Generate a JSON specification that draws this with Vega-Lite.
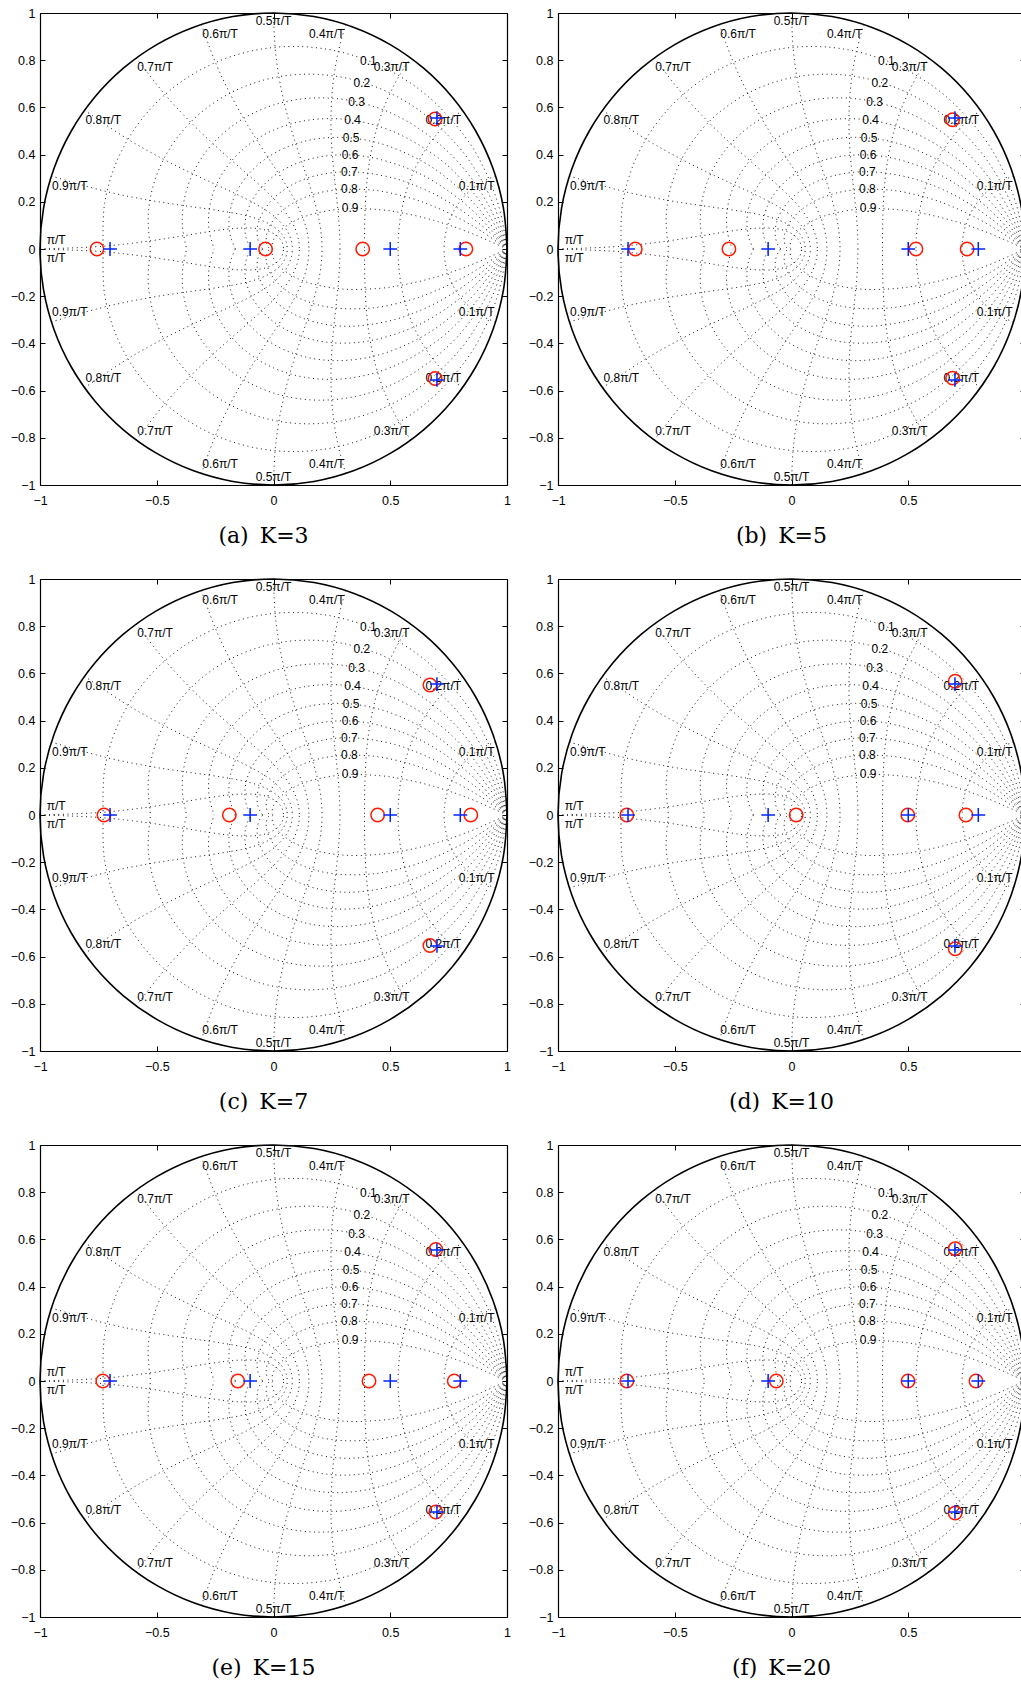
{
"$schema":"https://vega.github.io/schema/vega-lite/v6.json",
"padding":{"left":10,"top":7,"right":0,"bottom":0},
"background":"white",
"config":{"view":{"stroke":null},"axis":{"grid":false,"domainColor":"#000","domainWidth":1.2,"tickColor":"#000","tickWidth":1,"tickSize":-5,"labelColor":"#000","labelFont":"Liberation Sans","labelFontSize":12.5,"labelFlush":false,"labelOverlap":false,"labelBound":false},"title":{"orient":"bottom","dx":-10,"anchor":"middle","font":"DejaVu Serif","fontSize":22,"fontWeight":"normal","color":"#000"}},
"datasets":{
"grid":[
{"c":"z1","o":0,"x":1,"y":0},{"c":"z1","o":1,"x":0.9677,"y":0.1706},{"c":"z1","o":2,"x":0.9073,"y":0.3302},{"c":"z1","o":3,"x":0.8216,"y":0.4744},{"c":"z1","o":4,"x":0.6534,"y":0.6534},{"c":"z1","o":5,"x":0.4501,"y":0.7795},{"c":"z1","o":6,"x":0.2269,"y":0.8469},{"c":"z1","o":7,"x":0,"y":0.854},{"c":"z1","o":8,"x":-0.2153,"y":0.8035},{"c":"z1","o":9,"x":-0.4051,"y":0.7016},{"c":"z1","o":10,"x":-0.558,"y":0.558},{"c":"z1","o":11,"x":-0.6657,"y":0.3843},{"c":"z1","o":12,"x":-0.7232,"y":0.1938},{"c":"z1","o":13,"x":-0.7293,"y":0},
{"c":"z1m","o":0,"x":1,"y":0},{"c":"z1m","o":1,"x":0.9677,"y":-0.1706},{"c":"z1m","o":2,"x":0.9073,"y":-0.3302},{"c":"z1m","o":3,"x":0.8216,"y":-0.4744},{"c":"z1m","o":4,"x":0.6534,"y":-0.6534},{"c":"z1m","o":5,"x":0.4501,"y":-0.7795},{"c":"z1m","o":6,"x":0.2269,"y":-0.8469},{"c":"z1m","o":7,"x":0,"y":-0.854},{"c":"z1m","o":8,"x":-0.2153,"y":-0.8035},{"c":"z1m","o":9,"x":-0.4051,"y":-0.7016},{"c":"z1m","o":10,"x":-0.558,"y":-0.558},{"c":"z1m","o":11,"x":-0.6657,"y":-0.3843},{"c":"z1m","o":12,"x":-0.7232,"y":-0.1938},{"c":"z1m","o":13,"x":-0.7293,"y":0},
{"c":"z2","o":0,"x":1,"y":0},{"c":"z2","o":1,"x":0.9503,"y":0.1676},{"c":"z2","o":2,"x":0.8751,"y":0.3185},{"c":"z2","o":3,"x":0.7782,"y":0.4493},{"c":"z2","o":4,"x":0.6024,"y":0.6024},{"c":"z2","o":5,"x":0.4038,"y":0.6994},{"c":"z2","o":6,"x":0.1981,"y":0.7394},{"c":"z2","o":7,"x":0,"y":0.7257},{"c":"z2","o":8,"x":-0.178,"y":0.6645},{"c":"z2","o":9,"x":-0.3261,"y":0.5648},{"c":"z2","o":10,"x":-0.4371,"y":0.4371},{"c":"z2","o":11,"x":-0.5075,"y":0.293},{"c":"z2","o":12,"x":-0.5366,"y":0.1438},{"c":"z2","o":13,"x":-0.5266,"y":0},
{"c":"z2m","o":0,"x":1,"y":0},{"c":"z2m","o":1,"x":0.9503,"y":-0.1676},{"c":"z2m","o":2,"x":0.8751,"y":-0.3185},{"c":"z2m","o":3,"x":0.7782,"y":-0.4493},{"c":"z2m","o":4,"x":0.6024,"y":-0.6024},{"c":"z2m","o":5,"x":0.4038,"y":-0.6994},{"c":"z2m","o":6,"x":0.1981,"y":-0.7394},{"c":"z2m","o":7,"x":0,"y":-0.7257},{"c":"z2m","o":8,"x":-0.178,"y":-0.6645},{"c":"z2m","o":9,"x":-0.3261,"y":-0.5648},{"c":"z2m","o":10,"x":-0.4371,"y":-0.4371},{"c":"z2m","o":11,"x":-0.5075,"y":-0.293},{"c":"z2m","o":12,"x":-0.5366,"y":-0.1438},{"c":"z2m","o":13,"x":-0.5266,"y":0},
{"c":"z3","o":0,"x":1,"y":0},{"c":"z3","o":1,"x":0.9322,"y":0.1644},{"c":"z3","o":2,"x":0.842,"y":0.3065},{"c":"z3","o":3,"x":0.7345,"y":0.4241},{"c":"z3","o":4,"x":0.5524,"y":0.5524},{"c":"z3","o":5,"x":0.3597,"y":0.623},{"c":"z3","o":6,"x":0.1715,"y":0.64},{"c":"z3","o":7,"x":0,"y":0.6102},{"c":"z3","o":8,"x":-0.1454,"y":0.5428},{"c":"z3","o":9,"x":-0.2588,"y":0.4482},{"c":"z3","o":10,"x":-0.337,"y":0.337},{"c":"z3","o":11,"x":-0.3801,"y":0.2195},{"c":"z3","o":12,"x":-0.3905,"y":0.1046},{"c":"z3","o":13,"x":-0.3723,"y":0},
{"c":"z3m","o":0,"x":1,"y":0},{"c":"z3m","o":1,"x":0.9322,"y":-0.1644},{"c":"z3m","o":2,"x":0.842,"y":-0.3065},{"c":"z3m","o":3,"x":0.7345,"y":-0.4241},{"c":"z3m","o":4,"x":0.5524,"y":-0.5524},{"c":"z3m","o":5,"x":0.3597,"y":-0.623},{"c":"z3m","o":6,"x":0.1715,"y":-0.64},{"c":"z3m","o":7,"x":0,"y":-0.6102},{"c":"z3m","o":8,"x":-0.1454,"y":-0.5428},{"c":"z3m","o":9,"x":-0.2588,"y":-0.4482},{"c":"z3m","o":10,"x":-0.337,"y":-0.337},{"c":"z3m","o":11,"x":-0.3801,"y":-0.2195},{"c":"z3m","o":12,"x":-0.3905,"y":-0.1046},{"c":"z3m","o":13,"x":-0.3723,"y":0},
{"c":"z4","o":0,"x":1,"y":0},{"c":"z4","o":1,"x":0.9126,"y":0.1609},{"c":"z4","o":2,"x":0.8069,"y":0.2937},{"c":"z4","o":3,"x":0.6891,"y":0.3979},{"c":"z4","o":4,"x":0.5019,"y":0.5019},{"c":"z4","o":5,"x":0.3166,"y":0.5483},{"c":"z4","o":6,"x":0.1462,"y":0.5455},{"c":"z4","o":7,"x":0,"y":0.5038},{"c":"z4","o":8,"x":-0.1163,"y":0.4341},{"c":"z4","o":9,"x":-0.2004,"y":0.3472},{"c":"z4","o":10,"x":-0.2528,"y":0.2528},{"c":"z4","o":11,"x":-0.2762,"y":0.1595},{"c":"z4","o":12,"x":-0.2748,"y":0.0736},{"c":"z4","o":13,"x":-0.2538,"y":0},
{"c":"z4m","o":0,"x":1,"y":0},{"c":"z4m","o":1,"x":0.9126,"y":-0.1609},{"c":"z4m","o":2,"x":0.8069,"y":-0.2937},{"c":"z4m","o":3,"x":0.6891,"y":-0.3979},{"c":"z4m","o":4,"x":0.5019,"y":-0.5019},{"c":"z4m","o":5,"x":0.3166,"y":-0.5483},{"c":"z4m","o":6,"x":0.1462,"y":-0.5455},{"c":"z4m","o":7,"x":0,"y":-0.5038},{"c":"z4m","o":8,"x":-0.1163,"y":-0.4341},{"c":"z4m","o":9,"x":-0.2004,"y":-0.3472},{"c":"z4m","o":10,"x":-0.2528,"y":-0.2528},{"c":"z4m","o":11,"x":-0.2762,"y":-0.1595},{"c":"z4m","o":12,"x":-0.2748,"y":-0.0736},{"c":"z4m","o":13,"x":-0.2538,"y":0},
{"c":"z5","o":0,"x":1,"y":0},{"c":"z5","o":1,"x":0.8904,"y":0.157},{"c":"z5","o":2,"x":0.7682,"y":0.2796},{"c":"z5","o":3,"x":0.6401,"y":0.3696},{"c":"z5","o":4,"x":0.4493,"y":0.4493},{"c":"z5","o":5,"x":0.2732,"y":0.4731},{"c":"z5","o":6,"x":0.1216,"y":0.4537},{"c":"z5","o":7,"x":0,"y":0.4038},{"c":"z5","o":8,"x":-0.0898,"y":0.3353},{"c":"z5","o":9,"x":-0.1492,"y":0.2584},{"c":"z5","o":10,"x":-0.1814,"y":0.1814},{"c":"z5","o":11,"x":-0.191,"y":0.1103},{"c":"z5","o":12,"x":-0.1832,"y":0.0491},{"c":"z5","o":13,"x":-0.163,"y":0},
{"c":"z5m","o":0,"x":1,"y":0},{"c":"z5m","o":1,"x":0.8904,"y":-0.157},{"c":"z5m","o":2,"x":0.7682,"y":-0.2796},{"c":"z5m","o":3,"x":0.6401,"y":-0.3696},{"c":"z5m","o":4,"x":0.4493,"y":-0.4493},{"c":"z5m","o":5,"x":0.2732,"y":-0.4731},{"c":"z5m","o":6,"x":0.1216,"y":-0.4537},{"c":"z5m","o":7,"x":0,"y":-0.4038},{"c":"z5m","o":8,"x":-0.0898,"y":-0.3353},{"c":"z5m","o":9,"x":-0.1492,"y":-0.2584},{"c":"z5m","o":10,"x":-0.1814,"y":-0.1814},{"c":"z5m","o":11,"x":-0.191,"y":-0.1103},{"c":"z5m","o":12,"x":-0.1832,"y":-0.0491},{"c":"z5m","o":13,"x":-0.163,"y":0},
{"c":"z6","o":0,"x":1,"y":0},{"c":"z6","o":1,"x":0.864,"y":0.1523},{"c":"z6","o":2,"x":0.7233,"y":0.2632},{"c":"z6","o":3,"x":0.5848,"y":0.3376},{"c":"z6","o":4,"x":0.3923,"y":0.3923},{"c":"z6","o":5,"x":0.228,"y":0.3949},{"c":"z6","o":6,"x":0.097,"y":0.3619},{"c":"z6","o":7,"x":0,"y":0.3079},{"c":"z6","o":8,"x":-0.0655,"y":0.2444},{"c":"z6","o":9,"x":-0.1039,"y":0.18},{"c":"z6","o":10,"x":-0.1208,"y":0.1208},{"c":"z6","o":11,"x":-0.1216,"y":0.0702},{"c":"z6","o":12,"x":-0.1114,"y":0.0299},{"c":"z6","o":13,"x":-0.0948,"y":0},
{"c":"z6m","o":0,"x":1,"y":0},{"c":"z6m","o":1,"x":0.864,"y":-0.1523},{"c":"z6m","o":2,"x":0.7233,"y":-0.2632},{"c":"z6m","o":3,"x":0.5848,"y":-0.3376},{"c":"z6m","o":4,"x":0.3923,"y":-0.3923},{"c":"z6m","o":5,"x":0.228,"y":-0.3949},{"c":"z6m","o":6,"x":0.097,"y":-0.3619},{"c":"z6m","o":7,"x":0,"y":-0.3079},{"c":"z6m","o":8,"x":-0.0655,"y":-0.2444},{"c":"z6m","o":9,"x":-0.1039,"y":-0.18},{"c":"z6m","o":10,"x":-0.1208,"y":-0.1208},{"c":"z6m","o":11,"x":-0.1216,"y":-0.0702},{"c":"z6m","o":12,"x":-0.1114,"y":-0.0299},{"c":"z6m","o":13,"x":-0.0948,"y":0},
{"c":"z7","o":0,"x":1,"y":0},{"c":"z7","o":1,"x":0.9145,"y":0.08},{"c":"z7","o":2,"x":0.83,"y":0.1463},{"c":"z7","o":3,"x":0.7473,"y":0.2002},{"c":"z7","o":4,"x":0.6674,"y":0.2429},{"c":"z7","o":5,"x":0.5184,"y":0.2993},{"c":"z7","o":6,"x":0.3274,"y":0.3274},{"c":"z7","o":7,"x":0.1791,"y":0.3103},{"c":"z7","o":8,"x":0.0717,"y":0.2677},{"c":"z7","o":9,"x":0,"y":0.2144},{"c":"z7","o":10,"x":-0.0429,"y":0.1603},{"c":"z7","o":11,"x":-0.0642,"y":0.1112},{"c":"z7","o":12,"x":-0.0702,"y":0.0702},{"c":"z7","o":13,"x":-0.0665,"y":0.0384},{"c":"z7","o":14,"x":-0.0574,"y":0.0154},{"c":"z7","o":15,"x":-0.046,"y":0},
{"c":"z7m","o":0,"x":1,"y":0},{"c":"z7m","o":1,"x":0.9145,"y":-0.08},{"c":"z7m","o":2,"x":0.83,"y":-0.1463},{"c":"z7m","o":3,"x":0.7473,"y":-0.2002},{"c":"z7m","o":4,"x":0.6674,"y":-0.2429},{"c":"z7m","o":5,"x":0.5184,"y":-0.2993},{"c":"z7m","o":6,"x":0.3274,"y":-0.3274},{"c":"z7m","o":7,"x":0.1791,"y":-0.3103},{"c":"z7m","o":8,"x":0.0717,"y":-0.2677},{"c":"z7m","o":9,"x":0,"y":-0.2144},{"c":"z7m","o":10,"x":-0.0429,"y":-0.1603},{"c":"z7m","o":11,"x":-0.0642,"y":-0.1112},{"c":"z7m","o":12,"x":-0.0702,"y":-0.0702},{"c":"z7m","o":13,"x":-0.0665,"y":-0.0384},{"c":"z7m","o":14,"x":-0.0574,"y":-0.0154},{"c":"z7m","o":15,"x":-0.046,"y":0},
{"c":"z8","o":0,"x":1,"y":0},{"c":"z8","o":1,"x":0.8868,"y":0.0776},{"c":"z8","o":2,"x":0.7803,"y":0.1376},{"c":"z8","o":3,"x":0.6813,"y":0.1826},{"c":"z8","o":4,"x":0.59,"y":0.2148},{"c":"z8","o":5,"x":0.4309,"y":0.2488},{"c":"z8","o":6,"x":0.2481,"y":0.2481},{"c":"z8","o":7,"x":0.1238,"y":0.2144},{"c":"z8","o":8,"x":0.0452,"y":0.1686},{"c":"z8","o":9,"x":0,"y":0.1232},{"c":"z8","o":10,"x":-0.0225,"y":0.0839},{"c":"z8","o":11,"x":-0.0306,"y":0.0531},{"c":"z8","o":12,"x":-0.0306,"y":0.0306},{"c":"z8","o":13,"x":-0.0264,"y":0.0152},{"c":"z8","o":14,"x":-0.0208,"y":0.0056},{"c":"z8","o":15,"x":-0.0152,"y":0},
{"c":"z8m","o":0,"x":1,"y":0},{"c":"z8m","o":1,"x":0.8868,"y":-0.0776},{"c":"z8m","o":2,"x":0.7803,"y":-0.1376},{"c":"z8m","o":3,"x":0.6813,"y":-0.1826},{"c":"z8m","o":4,"x":0.59,"y":-0.2148},{"c":"z8m","o":5,"x":0.4309,"y":-0.2488},{"c":"z8m","o":6,"x":0.2481,"y":-0.2481},{"c":"z8m","o":7,"x":0.1238,"y":-0.2144},{"c":"z8m","o":8,"x":0.0452,"y":-0.1686},{"c":"z8m","o":9,"x":0,"y":-0.1232},{"c":"z8m","o":10,"x":-0.0225,"y":-0.0839},{"c":"z8m","o":11,"x":-0.0306,"y":-0.0531},{"c":"z8m","o":12,"x":-0.0306,"y":-0.0306},{"c":"z8m","o":13,"x":-0.0264,"y":-0.0152},{"c":"z8m","o":14,"x":-0.0208,"y":-0.0056},{"c":"z8m","o":15,"x":-0.0152,"y":0},
{"c":"z9","o":0,"x":1,"y":0},{"c":"z9","o":1,"x":0.8319,"y":0.0728},{"c":"z9","o":2,"x":0.6868,"y":0.1211},{"c":"z9","o":3,"x":0.5626,"y":0.1507},{"c":"z9","o":4,"x":0.4571,"y":0.1664},{"c":"z9","o":5,"x":0.2938,"y":0.1696},{"c":"z9","o":6,"x":0.1397,"y":0.1397},{"c":"z9","o":7,"x":0.0575,"y":0.0997},{"c":"z9","o":8,"x":0.0173,"y":0.0647},{"c":"z9","o":9,"x":0,"y":0.039},{"c":"z9","o":10,"x":-0.0066,"y":0.0115},{"c":"z9","o":11,"x":-0.0039,"y":0.0022},{"c":"z9","o":12,"x":-0.0015,"y":0},
{"c":"z9m","o":0,"x":1,"y":0},{"c":"z9m","o":1,"x":0.8319,"y":-0.0728},{"c":"z9m","o":2,"x":0.6868,"y":-0.1211},{"c":"z9m","o":3,"x":0.5626,"y":-0.1507},{"c":"z9m","o":4,"x":0.4571,"y":-0.1664},{"c":"z9m","o":5,"x":0.2938,"y":-0.1696},{"c":"z9m","o":6,"x":0.1397,"y":-0.1397},{"c":"z9m","o":7,"x":0.0575,"y":-0.0997},{"c":"z9m","o":8,"x":0.0173,"y":-0.0647},{"c":"z9m","o":9,"x":0,"y":-0.039},{"c":"z9m","o":10,"x":-0.0066,"y":-0.0115},{"c":"z9m","o":11,"x":-0.0039,"y":-0.0022},{"c":"z9m","o":12,"x":-0.0015,"y":0},
{"c":"w1","o":0,"x":0.9511,"y":0.309},{"c":"w1","o":1,"x":0.9221,"y":0.298},{"c":"w1","o":2,"x":0.895,"y":0.2845},{"c":"w1","o":3,"x":0.8695,"y":0.2687},{"c":"w1","o":4,"x":0.8456,"y":0.2504},{"c":"w1","o":5,"x":0.8232,"y":0.2296},{"c":"w1","o":6,"x":0.8022,"y":0.206},{"c":"w1","o":7,"x":0.7825,"y":0.1786},{"c":"w1","o":8,"x":0.764,"y":0.1457},{"c":"w1","o":9,"x":0.7467,"y":0.1029},{"c":"w1","o":10,"x":0.7384,"y":0.0727},{"c":"w1","o":11,"x":0.732,"y":0.0325},{"c":"w1","o":12,"x":0.7304,"y":0},
{"c":"w1m","o":0,"x":0.9511,"y":-0.309},{"c":"w1m","o":1,"x":0.9221,"y":-0.298},{"c":"w1m","o":2,"x":0.895,"y":-0.2845},{"c":"w1m","o":3,"x":0.8695,"y":-0.2687},{"c":"w1m","o":4,"x":0.8456,"y":-0.2504},{"c":"w1m","o":5,"x":0.8232,"y":-0.2296},{"c":"w1m","o":6,"x":0.8022,"y":-0.206},{"c":"w1m","o":7,"x":0.7825,"y":-0.1786},{"c":"w1m","o":8,"x":0.764,"y":-0.1457},{"c":"w1m","o":9,"x":0.7467,"y":-0.1029},{"c":"w1m","o":10,"x":0.7384,"y":-0.0727},{"c":"w1m","o":11,"x":0.732,"y":-0.0325},{"c":"w1m","o":12,"x":0.7304,"y":0},
{"c":"w2","o":0,"x":0.809,"y":0.5878},{"c":"w2","o":1,"x":0.7615,"y":0.5496},{"c":"w2","o":2,"x":0.72,"y":0.5093},{"c":"w2","o":3,"x":0.6838,"y":0.4672},{"c":"w2","o":4,"x":0.6523,"y":0.4235},{"c":"w2","o":5,"x":0.6249,"y":0.3781},{"c":"w2","o":6,"x":0.6011,"y":0.3304},{"c":"w2","o":7,"x":0.5804,"y":0.2794},{"c":"w2","o":8,"x":0.5624,"y":0.2227},{"c":"w2","o":9,"x":0.5469,"y":0.1536},{"c":"w2","o":10,"x":0.54,"y":0.1073},{"c":"w2","o":11,"x":0.5347,"y":0.0475},{"c":"w2","o":12,"x":0.5335,"y":0},
{"c":"w2m","o":0,"x":0.809,"y":-0.5878},{"c":"w2m","o":1,"x":0.7615,"y":-0.5496},{"c":"w2m","o":2,"x":0.72,"y":-0.5093},{"c":"w2m","o":3,"x":0.6838,"y":-0.4672},{"c":"w2m","o":4,"x":0.6523,"y":-0.4235},{"c":"w2m","o":5,"x":0.6249,"y":-0.3781},{"c":"w2m","o":6,"x":0.6011,"y":-0.3304},{"c":"w2m","o":7,"x":0.5804,"y":-0.2794},{"c":"w2m","o":8,"x":0.5624,"y":-0.2227},{"c":"w2m","o":9,"x":0.5469,"y":-0.1536},{"c":"w2m","o":10,"x":0.54,"y":-0.1073},{"c":"w2m","o":11,"x":0.5347,"y":-0.0475},{"c":"w2m","o":12,"x":0.5335,"y":0},
{"c":"w3","o":0,"x":0.5878,"y":0.809},{"c":"w3","o":1,"x":0.5384,"y":0.7337},{"c":"w3","o":2,"x":0.4995,"y":0.6606},{"c":"w3","o":3,"x":0.469,"y":0.59},{"c":"w3","o":4,"x":0.4456,"y":0.5215},{"c":"w3","o":5,"x":0.4275,"y":0.4548},{"c":"w3","o":6,"x":0.4141,"y":0.3889},{"c":"w3","o":7,"x":0.4042,"y":0.3223},{"c":"w3","o":8,"x":0.3972,"y":0.2521},{"c":"w3","o":9,"x":0.3926,"y":0.171},{"c":"w3","o":10,"x":0.3909,"y":0.1185},{"c":"w3","o":11,"x":0.3899,"y":0.0521},{"c":"w3","o":12,"x":0.3897,"y":0},
{"c":"w3m","o":0,"x":0.5878,"y":-0.809},{"c":"w3m","o":1,"x":0.5384,"y":-0.7337},{"c":"w3m","o":2,"x":0.4995,"y":-0.6606},{"c":"w3m","o":3,"x":0.469,"y":-0.59},{"c":"w3m","o":4,"x":0.4456,"y":-0.5215},{"c":"w3m","o":5,"x":0.4275,"y":-0.4548},{"c":"w3m","o":6,"x":0.4141,"y":-0.3889},{"c":"w3m","o":7,"x":0.4042,"y":-0.3223},{"c":"w3m","o":8,"x":0.3972,"y":-0.2521},{"c":"w3m","o":9,"x":0.3926,"y":-0.171},{"c":"w3m","o":10,"x":0.3909,"y":-0.1185},{"c":"w3m","o":11,"x":0.3899,"y":-0.0521},{"c":"w3m","o":12,"x":0.3897,"y":0},
{"c":"w4","o":0,"x":0.309,"y":0.9511},{"c":"w4","o":1,"x":0.2778,"y":0.837},{"c":"w4","o":2,"x":0.259,"y":0.7334},{"c":"w4","o":3,"x":0.2493,"y":0.639},{"c":"w4","o":4,"x":0.2461,"y":0.5526},{"c":"w4","o":5,"x":0.2475,"y":0.4726},{"c":"w4","o":6,"x":0.2521,"y":0.3972},{"c":"w4","o":7,"x":0.2587,"y":0.3244},{"c":"w4","o":8,"x":0.2668,"y":0.2505},{"c":"w4","o":9,"x":0.2755,"y":0.168},{"c":"w4","o":10,"x":0.28,"y":0.1159},{"c":"w4","o":11,"x":0.2837,"y":0.0508},{"c":"w4","o":12,"x":0.2846,"y":0},
{"c":"w4m","o":0,"x":0.309,"y":-0.9511},{"c":"w4m","o":1,"x":0.2778,"y":-0.837},{"c":"w4m","o":2,"x":0.259,"y":-0.7334},{"c":"w4m","o":3,"x":0.2493,"y":-0.639},{"c":"w4m","o":4,"x":0.2461,"y":-0.5526},{"c":"w4m","o":5,"x":0.2475,"y":-0.4726},{"c":"w4m","o":6,"x":0.2521,"y":-0.3972},{"c":"w4m","o":7,"x":0.2587,"y":-0.3244},{"c":"w4m","o":8,"x":0.2668,"y":-0.2505},{"c":"w4m","o":9,"x":0.2755,"y":-0.168},{"c":"w4m","o":10,"x":0.28,"y":-0.1159},{"c":"w4m","o":11,"x":0.2837,"y":-0.0508},{"c":"w4m","o":12,"x":0.2846,"y":0},
{"c":"w5","o":0,"x":0,"y":1},{"c":"w5","o":1,"x":0.0067,"y":0.8546},{"c":"w5","o":2,"x":0.0232,"y":0.73},{"c":"w5","o":3,"x":0.0451,"y":0.6226},{"c":"w5","o":4,"x":0.0697,"y":0.5289},{"c":"w5","o":5,"x":0.0952,"y":0.4459},{"c":"w5","o":6,"x":0.1204,"y":0.3706},{"c":"w5","o":7,"x":0.1446,"y":0.3},{"c":"w5","o":8,"x":0.1673,"y":0.2302},{"c":"w5","o":9,"x":0.1884,"y":0.1539},{"c":"w5","o":10,"x":0.1984,"y":0.1059},{"c":"w5","o":11,"x":0.206,"y":0.0464},{"c":"w5","o":12,"x":0.2079,"y":0},
{"c":"w5m","o":0,"x":0,"y":-1},{"c":"w5m","o":1,"x":0.0067,"y":-0.8546},{"c":"w5m","o":2,"x":0.0232,"y":-0.73},{"c":"w5m","o":3,"x":0.0451,"y":-0.6226},{"c":"w5m","o":4,"x":0.0697,"y":-0.5289},{"c":"w5m","o":5,"x":0.0952,"y":-0.4459},{"c":"w5m","o":6,"x":0.1204,"y":-0.3706},{"c":"w5m","o":7,"x":0.1446,"y":-0.3},{"c":"w5m","o":8,"x":0.1673,"y":-0.2302},{"c":"w5m","o":9,"x":0.1884,"y":-0.1539},{"c":"w5m","o":10,"x":0.1984,"y":-0.1059},{"c":"w5m","o":11,"x":0.206,"y":-0.0464},{"c":"w5m","o":12,"x":0.2079,"y":0},
{"c":"w6","o":0,"x":-0.309,"y":0.9511},{"c":"w6","o":1,"x":-0.2485,"y":0.79},{"c":"w6","o":2,"x":-0.187,"y":0.66},{"c":"w6","o":3,"x":-0.128,"y":0.5535},{"c":"w6","o":4,"x":-0.0735,"y":0.4647},{"c":"w6","o":5,"x":-0.024,"y":0.3889},{"c":"w6","o":6,"x":0.0203,"y":0.3221},{"c":"w6","o":7,"x":0.0595,"y":0.2605},{"c":"w6","o":8,"x":0.0942,"y":0.2003},{"c":"w6","o":9,"x":0.1249,"y":0.1342},{"c":"w6","o":10,"x":0.1388,"y":0.0926},{"c":"w6","o":11,"x":0.1493,"y":0.0407},{"c":"w6","o":12,"x":0.1518,"y":0},
{"c":"w6m","o":0,"x":-0.309,"y":-0.9511},{"c":"w6m","o":1,"x":-0.2485,"y":-0.79},{"c":"w6m","o":2,"x":-0.187,"y":-0.66},{"c":"w6m","o":3,"x":-0.128,"y":-0.5535},{"c":"w6m","o":4,"x":-0.0735,"y":-0.4647},{"c":"w6m","o":5,"x":-0.024,"y":-0.3889},{"c":"w6m","o":6,"x":0.0203,"y":-0.3221},{"c":"w6m","o":7,"x":0.0595,"y":-0.2605},{"c":"w6m","o":8,"x":0.0942,"y":-0.2003},{"c":"w6m","o":9,"x":0.1249,"y":-0.1342},{"c":"w6m","o":10,"x":0.1388,"y":-0.0926},{"c":"w6m","o":11,"x":0.1493,"y":-0.0407},{"c":"w6m","o":12,"x":0.1518,"y":0},
{"c":"w7","o":0,"x":-0.5878,"y":0.809},{"c":"w7","o":1,"x":-0.4647,"y":0.6544},{"c":"w7","o":2,"x":-0.3551,"y":0.5374},{"c":"w7","o":3,"x":-0.26,"y":0.4468},{"c":"w7","o":4,"x":-0.1785,"y":0.3746},{"c":"w7","o":5,"x":-0.1091,"y":0.3147},{"c":"w7","o":6,"x":-0.0501,"y":0.2625},{"c":"w7","o":7,"x":0.0001,"y":0.2145},{"c":"w7","o":8,"x":0.0428,"y":0.1668},{"c":"w7","o":9,"x":0.0794,"y":0.1131},{"c":"w7","o":10,"x":0.0957,"y":0.0785},{"c":"w7","o":11,"x":0.108,"y":0.0346},{"c":"w7","o":12,"x":0.1109,"y":0},
{"c":"w7m","o":0,"x":-0.5878,"y":-0.809},{"c":"w7m","o":1,"x":-0.4647,"y":-0.6544},{"c":"w7m","o":2,"x":-0.3551,"y":-0.5374},{"c":"w7m","o":3,"x":-0.26,"y":-0.4468},{"c":"w7m","o":4,"x":-0.1785,"y":-0.3746},{"c":"w7m","o":5,"x":-0.1091,"y":-0.3147},{"c":"w7m","o":6,"x":-0.0501,"y":-0.2625},{"c":"w7m","o":7,"x":0.0001,"y":-0.2145},{"c":"w7m","o":8,"x":0.0428,"y":-0.1668},{"c":"w7m","o":9,"x":0.0794,"y":-0.1131},{"c":"w7m","o":10,"x":0.0957,"y":-0.0785},{"c":"w7m","o":11,"x":0.108,"y":-0.0346},{"c":"w7m","o":12,"x":0.1109,"y":0},
{"c":"w8","o":0,"x":-0.809,"y":0.5878},{"c":"w8","o":1,"x":-0.6235,"y":0.465},{"c":"w8","o":2,"x":-0.4707,"y":0.38},{"c":"w8","o":3,"x":-0.3461,"y":0.3187},{"c":"w8","o":4,"x":-0.2448,"y":0.272},{"c":"w8","o":5,"x":-0.1621,"y":0.2339},{"c":"w8","o":6,"x":-0.0942,"y":0.2003},{"c":"w8","o":7,"x":-0.0382,"y":0.1679},{"c":"w8","o":8,"x":0.0084,"y":0.1336},{"c":"w8","o":9,"x":0.0477,"y":0.0926},{"c":"w8","o":10,"x":0.065,"y":0.0649},{"c":"w8","o":11,"x":0.0779,"y":0.0288},{"c":"w8","o":12,"x":0.081,"y":0},
{"c":"w8m","o":0,"x":-0.809,"y":-0.5878},{"c":"w8m","o":1,"x":-0.6235,"y":-0.465},{"c":"w8m","o":2,"x":-0.4707,"y":-0.38},{"c":"w8m","o":3,"x":-0.3461,"y":-0.3187},{"c":"w8m","o":4,"x":-0.2448,"y":-0.272},{"c":"w8m","o":5,"x":-0.1621,"y":-0.2339},{"c":"w8m","o":6,"x":-0.0942,"y":-0.2003},{"c":"w8m","o":7,"x":-0.0382,"y":-0.1679},{"c":"w8m","o":8,"x":0.0084,"y":-0.1336},{"c":"w8m","o":9,"x":0.0477,"y":-0.0926},{"c":"w8m","o":10,"x":0.065,"y":-0.0649},{"c":"w8m","o":11,"x":0.0779,"y":-0.0288},{"c":"w8m","o":12,"x":0.081,"y":0},
{"c":"w9","o":0,"x":-0.9511,"y":0.309},{"c":"w9","o":1,"x":-0.7134,"y":0.243},{"c":"w9","o":2,"x":-0.5294,"y":0.2061},{"c":"w9","o":3,"x":-0.3866,"y":0.1841},{"c":"w9","o":4,"x":-0.2751,"y":0.1687},{"c":"w9","o":5,"x":-0.1872,"y":0.1553},{"c":"w9","o":6,"x":-0.1169,"y":0.1413},{"c":"w9","o":7,"x":-0.0599,"y":0.1245},{"c":"w9","o":8,"x":-0.0131,"y":0.1033},{"c":"w9","o":9,"x":0.0261,"y":0.074},{"c":"w9","o":10,"x":0.0433,"y":0.0526},{"c":"w9","o":11,"x":0.0561,"y":0.0236},{"c":"w9","o":12,"x":0.0592,"y":0},
{"c":"w9m","o":0,"x":-0.9511,"y":-0.309},{"c":"w9m","o":1,"x":-0.7134,"y":-0.243},{"c":"w9m","o":2,"x":-0.5294,"y":-0.2061},{"c":"w9m","o":3,"x":-0.3866,"y":-0.1841},{"c":"w9m","o":4,"x":-0.2751,"y":-0.1687},{"c":"w9m","o":5,"x":-0.1872,"y":-0.1553},{"c":"w9m","o":6,"x":-0.1169,"y":-0.1413},{"c":"w9m","o":7,"x":-0.0599,"y":-0.1245},{"c":"w9m","o":8,"x":-0.0131,"y":-0.1033},{"c":"w9m","o":9,"x":0.0261,"y":-0.074},{"c":"w9m","o":10,"x":0.0433,"y":-0.0526},{"c":"w9m","o":11,"x":0.0561,"y":-0.0236},{"c":"w9m","o":12,"x":0.0592,"y":0},
{"c":"w10","o":0,"x":-1,"y":0},{"c":"w10","o":1,"x":-0.7303,"y":0.0115},{"c":"w10","o":2,"x":-0.5324,"y":0.0338},{"c":"w10","o":3,"x":-0.3856,"y":0.0562},{"c":"w10","o":4,"x":-0.2749,"y":0.0738},{"c":"w10","o":5,"x":-0.1897,"y":0.0849},{"c":"w10","o":6,"x":-0.1228,"y":0.0892},{"c":"w10","o":7,"x":-0.0691,"y":0.0867},{"c":"w10","o":8,"x":-0.025,"y":0.077},{"c":"w10","o":9,"x":0.0118,"y":0.058},{"c":"w10","o":10,"x":0.0281,"y":0.042},{"c":"w10","o":11,"x":0.0403,"y":0.0191},{"c":"w10","o":12,"x":0.0432,"y":0},
{"c":"w10m","o":0,"x":-1,"y":0},{"c":"w10m","o":1,"x":-0.7303,"y":-0.0115},{"c":"w10m","o":2,"x":-0.5324,"y":-0.0338},{"c":"w10m","o":3,"x":-0.3856,"y":-0.0562},{"c":"w10m","o":4,"x":-0.2749,"y":-0.0738},{"c":"w10m","o":5,"x":-0.1897,"y":-0.0849},{"c":"w10m","o":6,"x":-0.1228,"y":-0.0892},{"c":"w10m","o":7,"x":-0.0691,"y":-0.0867},{"c":"w10m","o":8,"x":-0.025,"y":-0.077},{"c":"w10m","o":9,"x":0.0118,"y":-0.058},{"c":"w10m","o":10,"x":0.0281,"y":-0.042},{"c":"w10m","o":11,"x":0.0403,"y":-0.0191},{"c":"w10m","o":12,"x":0.0432,"y":0}
],
"circ":[
{"o":0,"x":1,"y":0},{"o":1,"x":0.9848,"y":0.1736},{"o":2,"x":0.9397,"y":0.342},{"o":3,"x":0.866,"y":0.5},{"o":4,"x":0.766,"y":0.6428},{"o":5,"x":0.6428,"y":0.766},{"o":6,"x":0.5,"y":0.866},{"o":7,"x":0.342,"y":0.9397},{"o":8,"x":0.1736,"y":0.9848},{"o":9,"x":0,"y":1},{"o":10,"x":-0.1736,"y":0.9848},{"o":11,"x":-0.342,"y":0.9397},{"o":12,"x":-0.5,"y":0.866},{"o":13,"x":-0.6428,"y":0.766},{"o":14,"x":-0.766,"y":0.6428},{"o":15,"x":-0.866,"y":0.5},{"o":16,"x":-0.9397,"y":0.342},{"o":17,"x":-0.9848,"y":0.1736},{"o":18,"x":-1,"y":0},{"o":19,"x":-0.9848,"y":-0.1736},{"o":20,"x":-0.9397,"y":-0.342},{"o":21,"x":-0.866,"y":-0.5},{"o":22,"x":-0.766,"y":-0.6428},{"o":23,"x":-0.6428,"y":-0.766},{"o":24,"x":-0.5,"y":-0.866},{"o":25,"x":-0.342,"y":-0.9397},{"o":26,"x":-0.1736,"y":-0.9848},{"o":27,"x":0,"y":-1},{"o":28,"x":0.1736,"y":-0.9848},{"o":29,"x":0.342,"y":-0.9397},{"o":30,"x":0.5,"y":-0.866},{"o":31,"x":0.6428,"y":-0.766},{"o":32,"x":0.766,"y":-0.6428},{"o":33,"x":0.866,"y":-0.5},{"o":34,"x":0.9397,"y":-0.342},{"o":35,"x":0.9848,"y":-0.1736},{"o":36,"x":1,"y":0}
],
"lab":[
{"x":0.87,"y":0.268,"t":"0.1π/T"},{"x":0.727,"y":0.548,"t":"0.2π/T"},{"x":0.506,"y":0.773,"t":"0.3π/T"},{"x":0.228,"y":0.911,"t":"0.4π/T"},{"x":0,"y":0.964,"t":"0.5π/T"},{"x":-0.229,"y":0.911,"t":"0.6π/T"},{"x":-0.507,"y":0.773,"t":"0.7π/T"},{"x":-0.729,"y":0.548,"t":"0.8π/T"},{"x":-0.872,"y":0.268,"t":"0.9π/T"},{"x":-0.931,"y":0.038,"t":"π/T"},
{"x":0.87,"y":-0.268,"t":"0.1π/T"},{"x":0.727,"y":-0.548,"t":"0.2π/T"},{"x":0.506,"y":-0.773,"t":"0.3π/T"},{"x":0.228,"y":-0.911,"t":"0.4π/T"},{"x":0,"y":-0.964,"t":"0.5π/T"},{"x":-0.229,"y":-0.911,"t":"0.6π/T"},{"x":-0.507,"y":-0.773,"t":"0.7π/T"},{"x":-0.729,"y":-0.548,"t":"0.8π/T"},{"x":-0.872,"y":-0.268,"t":"0.9π/T"},{"x":-0.931,"y":-0.038,"t":"π/T"},
{"x":0.406,"y":0.795,"t":"0.1"},{"x":0.378,"y":0.704,"t":"0.2"},{"x":0.356,"y":0.624,"t":"0.3"},{"x":0.339,"y":0.545,"t":"0.4"},{"x":0.332,"y":0.469,"t":"0.5"},{"x":0.328,"y":0.397,"t":"0.6"},{"x":0.325,"y":0.326,"t":"0.7"},{"x":0.325,"y":0.253,"t":"0.8"},{"x":0.328,"y":0.173,"t":"0.9"}
],
"pz":[
{"p":"a","k":"zero","x":-0.756,"y":0},{"p":"a","k":"zero","x":-0.034,"y":0},{"p":"a","k":"zero","x":0.382,"y":0},{"p":"a","k":"zero","x":0.824,"y":0},{"p":"a","k":"zero","x":0.692,"y":0.551},{"p":"a","k":"zero","x":0.692,"y":-0.549},
{"p":"b","k":"zero","x":-0.669,"y":0},{"p":"b","k":"zero","x":-0.268,"y":0},{"p":"b","k":"zero","x":0.533,"y":0},{"p":"b","k":"zero","x":0.752,"y":0},{"p":"b","k":"zero","x":0.69,"y":0.548},{"p":"b","k":"zero","x":0.69,"y":-0.547},
{"p":"c","k":"zero","x":-0.726,"y":0},{"p":"c","k":"zero","x":-0.189,"y":0},{"p":"c","k":"zero","x":0.446,"y":0},{"p":"c","k":"zero","x":0.845,"y":0},{"p":"c","k":"zero","x":0.67,"y":0.551},{"p":"c","k":"zero","x":0.67,"y":-0.553},
{"p":"d","k":"zero","x":-0.705,"y":0},{"p":"d","k":"zero","x":0.02,"y":0},{"p":"d","k":"zero","x":0.498,"y":0},{"p":"d","k":"zero","x":0.747,"y":0},{"p":"d","k":"zero","x":0.701,"y":0.567},{"p":"d","k":"zero","x":0.701,"y":-0.567},
{"p":"e","k":"zero","x":-0.731,"y":0},{"p":"e","k":"zero","x":-0.153,"y":0},{"p":"e","k":"zero","x":0.409,"y":0},{"p":"e","k":"zero","x":0.774,"y":0},{"p":"e","k":"zero","x":0.695,"y":0.557},{"p":"e","k":"zero","x":0.695,"y":-0.555},
{"p":"f","k":"zero","x":-0.705,"y":0},{"p":"f","k":"zero","x":-0.065,"y":0},{"p":"f","k":"zero","x":0.499,"y":0},{"p":"f","k":"zero","x":0.79,"y":0},{"p":"f","k":"zero","x":0.701,"y":0.561},{"p":"f","k":"zero","x":0.701,"y":-0.559},
{"p":"all","k":"pole","x":-0.7,"y":0},{"p":"all","k":"pole","x":-0.1,"y":0},{"p":"all","k":"pole","x":0.5,"y":0},{"p":"all","k":"pole","x":0.8,"y":0},{"p":"all","k":"pole","x":0.7,"y":0.555},{"p":"all","k":"pole","x":0.7,"y":-0.555}
]
},
"columns":2,
"spacing":{"row":94,"column":51},
"bounds":"flush",
"concat":[
{"width":467,"height":472,"title":{"text":"(a)\u2002K=3","baseline":"alphabetic","offset":36},
"layer":[
{"data":{"name":"grid"},"mark":{"type":"line","interpolate":"catmull-rom","strokeDash":[1,3.6],"strokeWidth":1,"color":"#000","opacity":0.9},"encoding":{"x":{"field":"x","type":"quantitative","scale":{"domain":[-1,1],"nice":false,"zero":false},"title":null,"axis":{"orient":"bottom","values":[-1,-0.5,0,0.5,1],"format":"~g","labelPadding":14}},"y":{"field":"y","type":"quantitative","scale":{"domain":[-1,1],"nice":false,"zero":false},"title":null,"axis":{"orient":"left","values":[-1,-0.8,-0.6,-0.4,-0.2,0,0.2,0.4,0.6,0.8,1],"format":"~g","labelPadding":10}},"detail":{"field":"c"},"order":{"field":"o"}}},
{"data":{"name":"circ"},"mark":{"type":"line","interpolate":"catmull-rom","strokeWidth":1.6,"color":"#000"},"encoding":{"x":{"field":"x","type":"quantitative","scale":{"domain":[-1,1],"nice":false,"zero":false},"title":null,"axis":{"orient":"top","values":[-1,-0.5,0,0.5,1],"labels":false}},"y":{"field":"y","type":"quantitative","scale":{"domain":[-1,1],"nice":false,"zero":false},"title":null,"axis":{"orient":"right","values":[-1,-0.8,-0.6,-0.4,-0.2,0,0.2,0.4,0.6,0.8,1],"labels":false}},"order":{"field":"o"}}},
{"data":{"name":"lab"},"mark":{"type":"text","font":"Liberation Sans","fontSize":12,"color":"#000"},"encoding":{"x":{"field":"x","type":"quantitative","axis":null},"y":{"field":"y","type":"quantitative","axis":null},"text":{"field":"t"}}},
{"data":{"name":"pz"},"transform":[{"filter":"datum.p==='a'"}],"mark":{"type":"point","shape":"circle","size":180,"filled":false,"color":"#ff1a00","strokeWidth":1.5,"opacity":1},"encoding":{"x":{"field":"x","type":"quantitative","axis":null},"y":{"field":"y","type":"quantitative","axis":null}}},
{"data":{"name":"pz"},"transform":[{"filter":"datum.k==='pole'"}],"mark":{"type":"point","shape":"M-1,0L1,0M0,-1L0,1","size":190,"filled":false,"color":"#0026ff","strokeWidth":1.5,"opacity":1},"encoding":{"x":{"field":"x","type":"quantitative","axis":null},"y":{"field":"y","type":"quantitative","axis":null}}}
],"resolve":{"axis":{"x":"independent","y":"independent"}}},
{"width":467,"height":472,"title":{"text":"(b)\u2002K=5","baseline":"alphabetic","offset":36},
"layer":[
{"data":{"name":"grid"},"mark":{"type":"line","interpolate":"catmull-rom","strokeDash":[1,3.6],"strokeWidth":1,"color":"#000","opacity":0.9},"encoding":{"x":{"field":"x","type":"quantitative","scale":{"domain":[-1,1],"nice":false,"zero":false},"title":null,"axis":{"orient":"bottom","values":[-1,-0.5,0,0.5,1],"format":"~g","labelPadding":14}},"y":{"field":"y","type":"quantitative","scale":{"domain":[-1,1],"nice":false,"zero":false},"title":null,"axis":{"orient":"left","values":[-1,-0.8,-0.6,-0.4,-0.2,0,0.2,0.4,0.6,0.8,1],"format":"~g","labelPadding":10}},"detail":{"field":"c"},"order":{"field":"o"}}},
{"data":{"name":"circ"},"mark":{"type":"line","interpolate":"catmull-rom","strokeWidth":1.6,"color":"#000"},"encoding":{"x":{"field":"x","type":"quantitative","scale":{"domain":[-1,1],"nice":false,"zero":false},"title":null,"axis":{"orient":"top","values":[-1,-0.5,0,0.5,1],"labels":false}},"y":{"field":"y","type":"quantitative","scale":{"domain":[-1,1],"nice":false,"zero":false},"title":null,"axis":{"orient":"right","values":[-1,-0.8,-0.6,-0.4,-0.2,0,0.2,0.4,0.6,0.8,1],"labels":false}},"order":{"field":"o"}}},
{"data":{"name":"lab"},"mark":{"type":"text","font":"Liberation Sans","fontSize":12,"color":"#000"},"encoding":{"x":{"field":"x","type":"quantitative","axis":null},"y":{"field":"y","type":"quantitative","axis":null},"text":{"field":"t"}}},
{"data":{"name":"pz"},"transform":[{"filter":"datum.p==='b'"}],"mark":{"type":"point","shape":"circle","size":180,"filled":false,"color":"#ff1a00","strokeWidth":1.5,"opacity":1},"encoding":{"x":{"field":"x","type":"quantitative","axis":null},"y":{"field":"y","type":"quantitative","axis":null}}},
{"data":{"name":"pz"},"transform":[{"filter":"datum.k==='pole'"}],"mark":{"type":"point","shape":"M-1,0L1,0M0,-1L0,1","size":190,"filled":false,"color":"#0026ff","strokeWidth":1.5,"opacity":1},"encoding":{"x":{"field":"x","type":"quantitative","axis":null},"y":{"field":"y","type":"quantitative","axis":null}}}
],"resolve":{"axis":{"x":"independent","y":"independent"}}},
{"width":467,"height":472,"title":{"text":"(c)\u2002K=7","baseline":"alphabetic","offset":36},
"layer":[
{"data":{"name":"grid"},"mark":{"type":"line","interpolate":"catmull-rom","strokeDash":[1,3.6],"strokeWidth":1,"color":"#000","opacity":0.9},"encoding":{"x":{"field":"x","type":"quantitative","scale":{"domain":[-1,1],"nice":false,"zero":false},"title":null,"axis":{"orient":"bottom","values":[-1,-0.5,0,0.5,1],"format":"~g","labelPadding":14}},"y":{"field":"y","type":"quantitative","scale":{"domain":[-1,1],"nice":false,"zero":false},"title":null,"axis":{"orient":"left","values":[-1,-0.8,-0.6,-0.4,-0.2,0,0.2,0.4,0.6,0.8,1],"format":"~g","labelPadding":10}},"detail":{"field":"c"},"order":{"field":"o"}}},
{"data":{"name":"circ"},"mark":{"type":"line","interpolate":"catmull-rom","strokeWidth":1.6,"color":"#000"},"encoding":{"x":{"field":"x","type":"quantitative","scale":{"domain":[-1,1],"nice":false,"zero":false},"title":null,"axis":{"orient":"top","values":[-1,-0.5,0,0.5,1],"labels":false}},"y":{"field":"y","type":"quantitative","scale":{"domain":[-1,1],"nice":false,"zero":false},"title":null,"axis":{"orient":"right","values":[-1,-0.8,-0.6,-0.4,-0.2,0,0.2,0.4,0.6,0.8,1],"labels":false}},"order":{"field":"o"}}},
{"data":{"name":"lab"},"mark":{"type":"text","font":"Liberation Sans","fontSize":12,"color":"#000"},"encoding":{"x":{"field":"x","type":"quantitative","axis":null},"y":{"field":"y","type":"quantitative","axis":null},"text":{"field":"t"}}},
{"data":{"name":"pz"},"transform":[{"filter":"datum.p==='c'"}],"mark":{"type":"point","shape":"circle","size":180,"filled":false,"color":"#ff1a00","strokeWidth":1.5,"opacity":1},"encoding":{"x":{"field":"x","type":"quantitative","axis":null},"y":{"field":"y","type":"quantitative","axis":null}}},
{"data":{"name":"pz"},"transform":[{"filter":"datum.k==='pole'"}],"mark":{"type":"point","shape":"M-1,0L1,0M0,-1L0,1","size":190,"filled":false,"color":"#0026ff","strokeWidth":1.5,"opacity":1},"encoding":{"x":{"field":"x","type":"quantitative","axis":null},"y":{"field":"y","type":"quantitative","axis":null}}}
],"resolve":{"axis":{"x":"independent","y":"independent"}}},
{"width":467,"height":472,"title":{"text":"(d)\u2002K=10","baseline":"alphabetic","offset":36},
"layer":[
{"data":{"name":"grid"},"mark":{"type":"line","interpolate":"catmull-rom","strokeDash":[1,3.6],"strokeWidth":1,"color":"#000","opacity":0.9},"encoding":{"x":{"field":"x","type":"quantitative","scale":{"domain":[-1,1],"nice":false,"zero":false},"title":null,"axis":{"orient":"bottom","values":[-1,-0.5,0,0.5,1],"format":"~g","labelPadding":14}},"y":{"field":"y","type":"quantitative","scale":{"domain":[-1,1],"nice":false,"zero":false},"title":null,"axis":{"orient":"left","values":[-1,-0.8,-0.6,-0.4,-0.2,0,0.2,0.4,0.6,0.8,1],"format":"~g","labelPadding":10}},"detail":{"field":"c"},"order":{"field":"o"}}},
{"data":{"name":"circ"},"mark":{"type":"line","interpolate":"catmull-rom","strokeWidth":1.6,"color":"#000"},"encoding":{"x":{"field":"x","type":"quantitative","scale":{"domain":[-1,1],"nice":false,"zero":false},"title":null,"axis":{"orient":"top","values":[-1,-0.5,0,0.5,1],"labels":false}},"y":{"field":"y","type":"quantitative","scale":{"domain":[-1,1],"nice":false,"zero":false},"title":null,"axis":{"orient":"right","values":[-1,-0.8,-0.6,-0.4,-0.2,0,0.2,0.4,0.6,0.8,1],"labels":false}},"order":{"field":"o"}}},
{"data":{"name":"lab"},"mark":{"type":"text","font":"Liberation Sans","fontSize":12,"color":"#000"},"encoding":{"x":{"field":"x","type":"quantitative","axis":null},"y":{"field":"y","type":"quantitative","axis":null},"text":{"field":"t"}}},
{"data":{"name":"pz"},"transform":[{"filter":"datum.p==='d'"}],"mark":{"type":"point","shape":"circle","size":180,"filled":false,"color":"#ff1a00","strokeWidth":1.5,"opacity":1},"encoding":{"x":{"field":"x","type":"quantitative","axis":null},"y":{"field":"y","type":"quantitative","axis":null}}},
{"data":{"name":"pz"},"transform":[{"filter":"datum.k==='pole'"}],"mark":{"type":"point","shape":"M-1,0L1,0M0,-1L0,1","size":190,"filled":false,"color":"#0026ff","strokeWidth":1.5,"opacity":1},"encoding":{"x":{"field":"x","type":"quantitative","axis":null},"y":{"field":"y","type":"quantitative","axis":null}}}
],"resolve":{"axis":{"x":"independent","y":"independent"}}},
{"width":467,"height":472,"title":{"text":"(e)\u2002K=15","baseline":"alphabetic","offset":36},
"layer":[
{"data":{"name":"grid"},"mark":{"type":"line","interpolate":"catmull-rom","strokeDash":[1,3.6],"strokeWidth":1,"color":"#000","opacity":0.9},"encoding":{"x":{"field":"x","type":"quantitative","scale":{"domain":[-1,1],"nice":false,"zero":false},"title":null,"axis":{"orient":"bottom","values":[-1,-0.5,0,0.5,1],"format":"~g","labelPadding":14}},"y":{"field":"y","type":"quantitative","scale":{"domain":[-1,1],"nice":false,"zero":false},"title":null,"axis":{"orient":"left","values":[-1,-0.8,-0.6,-0.4,-0.2,0,0.2,0.4,0.6,0.8,1],"format":"~g","labelPadding":10}},"detail":{"field":"c"},"order":{"field":"o"}}},
{"data":{"name":"circ"},"mark":{"type":"line","interpolate":"catmull-rom","strokeWidth":1.6,"color":"#000"},"encoding":{"x":{"field":"x","type":"quantitative","scale":{"domain":[-1,1],"nice":false,"zero":false},"title":null,"axis":{"orient":"top","values":[-1,-0.5,0,0.5,1],"labels":false}},"y":{"field":"y","type":"quantitative","scale":{"domain":[-1,1],"nice":false,"zero":false},"title":null,"axis":{"orient":"right","values":[-1,-0.8,-0.6,-0.4,-0.2,0,0.2,0.4,0.6,0.8,1],"labels":false}},"order":{"field":"o"}}},
{"data":{"name":"lab"},"mark":{"type":"text","font":"Liberation Sans","fontSize":12,"color":"#000"},"encoding":{"x":{"field":"x","type":"quantitative","axis":null},"y":{"field":"y","type":"quantitative","axis":null},"text":{"field":"t"}}},
{"data":{"name":"pz"},"transform":[{"filter":"datum.p==='e'"}],"mark":{"type":"point","shape":"circle","size":180,"filled":false,"color":"#ff1a00","strokeWidth":1.5,"opacity":1},"encoding":{"x":{"field":"x","type":"quantitative","axis":null},"y":{"field":"y","type":"quantitative","axis":null}}},
{"data":{"name":"pz"},"transform":[{"filter":"datum.k==='pole'"}],"mark":{"type":"point","shape":"M-1,0L1,0M0,-1L0,1","size":190,"filled":false,"color":"#0026ff","strokeWidth":1.5,"opacity":1},"encoding":{"x":{"field":"x","type":"quantitative","axis":null},"y":{"field":"y","type":"quantitative","axis":null}}}
],"resolve":{"axis":{"x":"independent","y":"independent"}}},
{"width":467,"height":472,"title":{"text":"(f)\u2002K=20","baseline":"alphabetic","offset":36},
"layer":[
{"data":{"name":"grid"},"mark":{"type":"line","interpolate":"catmull-rom","strokeDash":[1,3.6],"strokeWidth":1,"color":"#000","opacity":0.9},"encoding":{"x":{"field":"x","type":"quantitative","scale":{"domain":[-1,1],"nice":false,"zero":false},"title":null,"axis":{"orient":"bottom","values":[-1,-0.5,0,0.5,1],"format":"~g","labelPadding":14}},"y":{"field":"y","type":"quantitative","scale":{"domain":[-1,1],"nice":false,"zero":false},"title":null,"axis":{"orient":"left","values":[-1,-0.8,-0.6,-0.4,-0.2,0,0.2,0.4,0.6,0.8,1],"format":"~g","labelPadding":10}},"detail":{"field":"c"},"order":{"field":"o"}}},
{"data":{"name":"circ"},"mark":{"type":"line","interpolate":"catmull-rom","strokeWidth":1.6,"color":"#000"},"encoding":{"x":{"field":"x","type":"quantitative","scale":{"domain":[-1,1],"nice":false,"zero":false},"title":null,"axis":{"orient":"top","values":[-1,-0.5,0,0.5,1],"labels":false}},"y":{"field":"y","type":"quantitative","scale":{"domain":[-1,1],"nice":false,"zero":false},"title":null,"axis":{"orient":"right","values":[-1,-0.8,-0.6,-0.4,-0.2,0,0.2,0.4,0.6,0.8,1],"labels":false}},"order":{"field":"o"}}},
{"data":{"name":"lab"},"mark":{"type":"text","font":"Liberation Sans","fontSize":12,"color":"#000"},"encoding":{"x":{"field":"x","type":"quantitative","axis":null},"y":{"field":"y","type":"quantitative","axis":null},"text":{"field":"t"}}},
{"data":{"name":"pz"},"transform":[{"filter":"datum.p==='f'"}],"mark":{"type":"point","shape":"circle","size":180,"filled":false,"color":"#ff1a00","strokeWidth":1.5,"opacity":1},"encoding":{"x":{"field":"x","type":"quantitative","axis":null},"y":{"field":"y","type":"quantitative","axis":null}}},
{"data":{"name":"pz"},"transform":[{"filter":"datum.k==='pole'"}],"mark":{"type":"point","shape":"M-1,0L1,0M0,-1L0,1","size":190,"filled":false,"color":"#0026ff","strokeWidth":1.5,"opacity":1},"encoding":{"x":{"field":"x","type":"quantitative","axis":null},"y":{"field":"y","type":"quantitative","axis":null}}}
],"resolve":{"axis":{"x":"independent","y":"independent"}}}
]
}
